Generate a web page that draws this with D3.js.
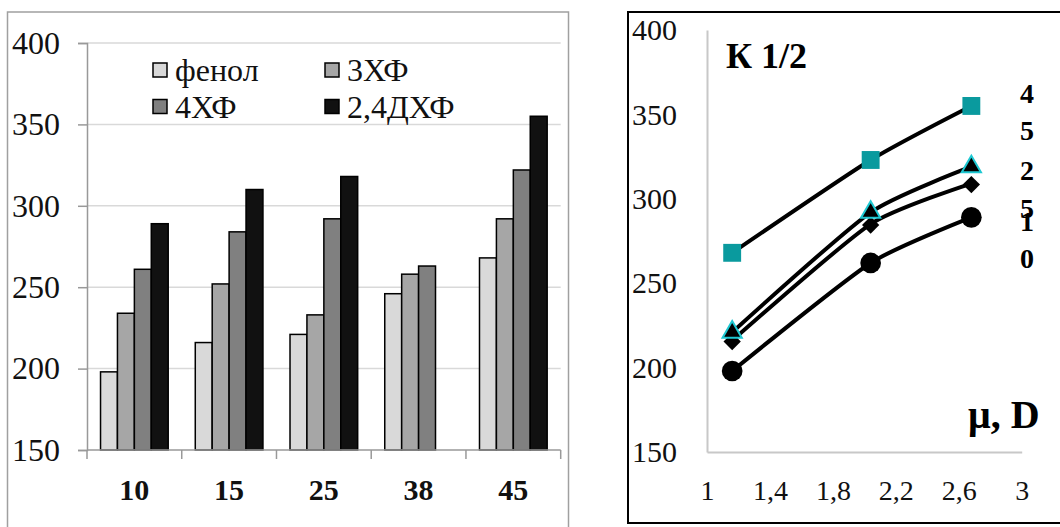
<!DOCTYPE html>
<html>
<head>
<meta charset="utf-8">
<script src="https://cdn.jsdelivr.net/npm/d3@7"></script>
<style>
  html, body { margin: 0; padding: 0; background: #fff; }
  svg, svg text { font-family: "Liberation Serif", "Times New Roman", Times, serif !important; }
</style>
</head>
<body>
<svg id="chart" width="1060" height="527"></svg>
<script>
// ---------- Data: left bar chart ----------
const categories = ["10", "15", "25", "38", "45"];
const seriesNames = ["фенол", "3ХФ", "4ХФ", "2,4ДХФ"];
const phenol = [198, 216, 221, 246, 268];
const cp3 = [234, 252, 233, 258, 292];
const cp4 = [261, 284, 292, 263, 322];
const dcp24 = [289, 310, 318, null, 355];
const barTicks = [150, 200, 250, 300, 350, 400];

// ---------- Data: right line chart ----------
const muValues = [1.16, 2.04, 2.68];
const k10 = [198, 262, 289];
const k15 = [216, 285, 309];
const k25 = [221, 292, 319];
const k45 = [268, 323, 355];
const lineYTicks = [150, 200, 250, 300, 350, 400];
const lineXTicks = [1, 1.4, 1.8, 2.2, 2.6, 3];
const lineLabels = [["4", "5"], ["2", "5"], ["1", "0"]];

const FONT = "'Liberation Serif', 'Times New Roman', serif";
const svg = d3.select("#chart").attr("font-family", FONT);

// ================= LEFT CHART =================
const barColors = ["#d9d9d9", "#a6a6a6", "#808080", "#111111"];
const barSeries = [phenol, cp3, cp4, dcp24];

svg.append("rect")
  .attr("x", 7.5).attr("y", 12).attr("width", 561).attr("height", 540)
  .attr("fill", "none").attr("stroke", "#a0a0a0").attr("stroke-width", 1.5);

const xB = d3.scaleBand().domain(categories).range([87, 560.7]).padding(0);
const xInner = d3.scaleBand().domain(seriesNames).range([0, xB.bandwidth()])
  .paddingInner(0).paddingOuter(0.8);
const yB = d3.scaleLinear().domain([150, 400]).range([450, 43]);

// gridlines
svg.append("g").selectAll("line")
  .data(barTicks.filter(t => t > 150))
  .join("line")
  .attr("x1", xB.range()[0]).attr("x2", xB.range()[1])
  .attr("y1", d => yB(d)).attr("y2", d => yB(d))
  .attr("stroke", "#d9d9d9").attr("stroke-width", 1.5);

// bars
const barData = [];
categories.forEach((c, i) => {
  seriesNames.forEach((s, j) => {
    const v = barSeries[j][i];
    if (v != null) barData.push({ c, s, v, j });
  });
});
svg.append("g").selectAll("rect")
  .data(barData)
  .join("rect")
  .attr("x", d => xB(d.c) + xInner(d.s))
  .attr("y", d => yB(d.v))
  .attr("width", xInner.bandwidth())
  .attr("height", d => yB(150) - yB(d.v))
  .attr("fill", d => barColors[d.j])
  .attr("stroke", "#000").attr("stroke-width", 1.5);

// y axis
const yAxisB = svg.append("g").attr("transform", "translate(87,0)")
  .call(d3.axisLeft(yB).tickValues(barTicks).tickSize(9).tickPadding(18).tickFormat(d3.format("d")));
yAxisB.attr("font-family", FONT);
yAxisB.select(".domain").attr("stroke", "#999").attr("stroke-width", 1.5);
yAxisB.selectAll(".tick line").attr("stroke", "#999").attr("stroke-width", 1.5);
yAxisB.selectAll("text").attr("font-size", 32).attr("fill", "#111");

// x axis line and boundary ticks
svg.append("line")
  .attr("x1", xB.range()[0]).attr("x2", xB.range()[1])
  .attr("y1", yB(150)).attr("y2", yB(150))
  .attr("stroke", "#999").attr("stroke-width", 1.5);
const boundaries = categories.map(c => xB(c)).concat([xB.range()[1]]);
svg.append("g").selectAll("line")
  .data(boundaries)
  .join("line")
  .attr("x1", d => d).attr("x2", d => d)
  .attr("y1", yB(150)).attr("y2", yB(150) + 9)
  .attr("stroke", "#999").attr("stroke-width", 1.5);
const xAxisB = svg.append("g").attr("transform", `translate(0,${yB(150)})`)
  .call(d3.axisBottom(xB).tickSize(0).tickPadding(29));
xAxisB.attr("font-family", FONT);
xAxisB.select(".domain").remove();
xAxisB.selectAll("text").attr("font-size", 30).attr("font-weight", "bold").attr("fill", "#111");

// legend
const legendPos = [
  { x: 153, y: 70 }, { x: 325, y: 70 },
  { x: 153, y: 106.5 }, { x: 325, y: 106.5 }
];
const leg = svg.append("g").selectAll("g")
  .data(seriesNames)
  .join("g")
  .attr("transform", (d, i) => `translate(${legendPos[i].x},${legendPos[i].y})`);
leg.append("rect")
  .attr("x", 0).attr("y", -7).attr("width", 14).attr("height", 14)
  .attr("fill", (d, i) => barColors[i])
  .attr("stroke", "#000").attr("stroke-width", 1.5);
leg.append("text")
  .attr("x", 22).attr("y", 11)
  .attr("font-size", 32).attr("fill", "#111")
  .text(d => d);

// ================= RIGHT CHART =================
svg.append("rect")
  .attr("x", 628).attr("y", 12).attr("width", 450).attr("height", 511)
  .attr("fill", "none").attr("stroke", "#000").attr("stroke-width", 2);

const xL = d3.scaleLinear().domain([1, 3]).range([707, 1021.7]);
const yL = d3.scaleLinear().domain([150, 400]).range([452, 30]);

const yAxisL = svg.append("g").attr("transform", "translate(707,0)")
  .call(d3.axisLeft(yL).tickValues(lineYTicks).tickSize(0).tickPadding(30).tickFormat(d3.format("d")));
yAxisL.attr("font-family", FONT);
yAxisL.select(".domain").attr("stroke", "#c8c8c8").attr("stroke-width", 2);
yAxisL.selectAll("text").attr("font-size", 30).attr("fill", "#111");

const commaFmt = d => String(d).replace(".", ",");
const xAxisL = svg.append("g").attr("transform", "translate(0,452)")
  .call(d3.axisBottom(xL).tickValues(lineXTicks).tickSize(0).tickPadding(28).tickFormat(commaFmt));
xAxisL.attr("font-family", FONT);
xAxisL.select(".domain").attr("stroke", "#c8c8c8").attr("stroke-width", 2);
xAxisL.selectAll("text").attr("font-size", 28).attr("fill", "#111");

const lineSeries = [
  { vals: k10, marker: "circle" },
  { vals: k15, marker: "diamond" },
  { vals: k25, marker: "triangle" },
  { vals: k45, marker: "square" }
];
const lineGen = d3.line()
  .x(d => xL(d[0])).y(d => yL(d[1]))
  .curve(d3.curveCardinal.tension(0.4));

svg.append("g").selectAll("path")
  .data(lineSeries)
  .join("path")
  .attr("d", s => lineGen(muValues.map((m, i) => [m, s.vals[i]])))
  .attr("fill", "none").attr("stroke", "#000").attr("stroke-width", 4);

const markerG = svg.append("g");
lineSeries.forEach(s => {
  const pts = muValues.map((m, i) => [m, s.vals[i]]);
  const g = markerG.append("g");
  if (s.marker === "circle") {
    g.selectAll("path").data(pts).join("path")
      .attr("d", d3.symbol(d3.symbolCircle, 336))
      .attr("transform", d => `translate(${xL(d[0])},${yL(d[1])})`)
      .attr("fill", "#000");
  } else if (s.marker === "diamond") {
    g.selectAll("path").data(pts).join("path")
      .attr("d", d3.symbol(d3.symbolSquare, 150))
      .attr("transform", d => `translate(${xL(d[0])},${yL(d[1]) + 1}) rotate(45)`)
      .attr("fill", "#000");
  } else if (s.marker === "triangle") {
    g.selectAll("path").data(pts).join("path")
      .attr("d", d3.symbol(d3.symbolTriangle, 160))
      .attr("transform", d => `translate(${xL(d[0])},${yL(d[1])})`)
      .attr("fill", "#000").attr("stroke", "#1ec8d2").attr("stroke-width", 2);
  } else {
    g.selectAll("path").data(pts).join("path")
      .attr("d", d3.symbol(d3.symbolSquare, 320))
      .attr("transform", d => `translate(${xL(d[0])},${yL(d[1])})`)
      .attr("fill", "#0a9a9e");
  }
});

// titles
svg.append("text")
  .attr("x", 726).attr("y", 68)
  .attr("font-size", 36).attr("font-weight", "bold").attr("fill", "#000")
  .text("К 1/2");
svg.append("text")
  .attr("x", 968).attr("y", 428)
  .attr("font-size", 40).attr("font-weight", "bold").attr("fill", "#000")
  .text("μ, D");

// right-side series labels
const labelBaselines = [102.7, 180, 230.5];
svg.append("g").selectAll("text")
  .data(lineLabels)
  .join("text")
  .attr("x", 1027).attr("y", (d, i) => labelBaselines[i])
  .attr("text-anchor", "middle")
  .attr("font-size", 28).attr("font-weight", "bold").attr("fill", "#000")
  .selectAll("tspan")
  .data(d => d)
  .join("tspan")
  .attr("x", 1027)
  .attr("dy", (d, i) => i === 0 ? 0 : 37.5)
  .text(d => d);
</script>
</body>
</html>
